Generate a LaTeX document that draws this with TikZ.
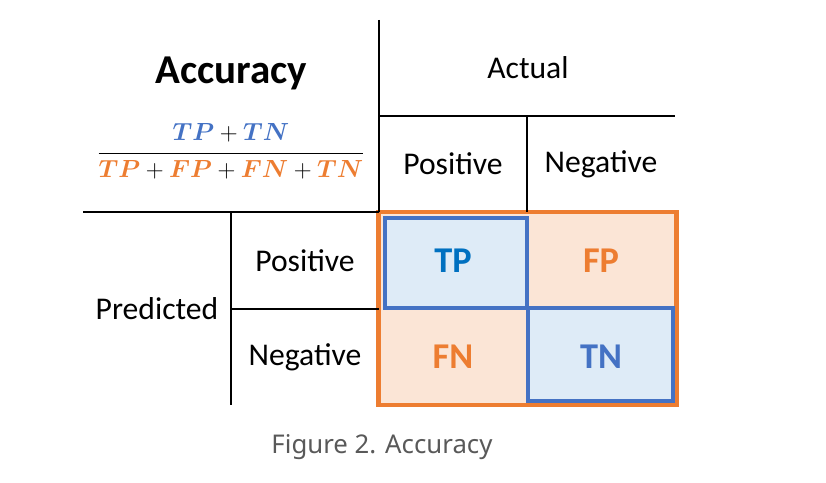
\documentclass[tikz,border=0pt]{standalone}
\usepackage{amsmath}
\usepackage{fontspec}
\setmainfont{Carlito}
\newfontfamily\capfont{Noto Sans}
\usetikzlibrary{positioning}
\definecolor{myorange}{RGB}{237,125,49}
\definecolor{myblue}{RGB}{68,114,196}
\definecolor{mydeepblue}{RGB}{0,112,192}
\definecolor{hdrorange}{RGB}{251,229,214}
\definecolor{hdrblue}{RGB}{222,235,247}
\definecolor{mygray}{RGB}{89,89,89}
\tikzset{
  hdrtext/.style={font=\fontsize{27}{31}\selectfont, text=black},
  celltext/.style={font=\fontsize{31}{35}\selectfont\bfseries},
  gridline/.style={line width=1.2pt, color=black},
  orangebox/.style={draw=myorange, line width=4pt},
  bluebox/.style={draw=myblue, line width=4pt}
}

\begin{document}
\begin{tikzpicture}[x=0.03cm, y=-0.03cm]
  \useasboundingbox (0,0) rectangle (826,483);

  % Confusion matrix cells
  \fill[hdrorange] (378.5,212) rectangle (676.5,405);
  \fill[hdrblue] (385,218) rectangle (527,308);
  \fill[hdrblue] (528,308) rectangle (673,401);
  \draw[orangebox] (378.5,212) rectangle (676.5,405);
  \draw[bluebox] (385,218) rectangle (527,308);
  \draw[bluebox] (528,308) rectangle (673,401);

  % Table rules
  \coordinate (colA) at (379,20);
  \coordinate (colAb) at (379,212);
  \coordinate (rowL) at (83,212);
  \draw[gridline] (colA) -- (colAb);
  \draw[gridline] (rowL) -- (colAb);
  \draw[gridline] (379,116) -- (675,116);
  \draw[gridline] (527,116) -- (527,212);
  \draw[gridline] (231,212) -- (231,405);
  \draw[gridline] (231,309) -- (379,309);

  % Formula
  \node[font=\fontsize{35}{40}\selectfont\bfseries] (title) at (231,73) {Accuracy};
  \node[font=\fontsize{25}{30}\selectfont] (formula) at (231,153)
    {\scalebox{0.85}{$\displaystyle\frac{{\color{myblue}\boldsymbol{TP}}+{\color{myblue}\boldsymbol{TN}}\vphantom{\big|}}
      {\vphantom{\big|}{\color{myorange}\boldsymbol{TP}}+{\color{myorange}\boldsymbol{FP}}+{\color{myorange}\boldsymbol{FN}}+{\color{myorange}\boldsymbol{TN}}}$}};

  % Headers
  \node[hdrtext] (actual) at (528,68) {Actual};
  \node[hdrtext] (actpos) at (453,164) {Positive};
  \node[hdrtext] (actneg) at (601,164) {Negative};
  \node[hdrtext] (predicted) at (157,309) {Predicted};
  \node[hdrtext] (predpos) at (305,261) {Positive};
  \node[hdrtext] (predneg) at (305,357) {Negative};

  % Cell labels
  \node[celltext, text=mydeepblue] (tp) at (453,261) {TP};
  \node[celltext, text=myorange] (fp) at (601,261) {FP};
  \node[celltext, text=myorange] (fn) at (453,357) {FN};
  \node[celltext, text=myblue] (tn) at (601,357) {TN};

  % Caption
  \node[font=\capfont\fontsize{22}{26}\selectfont, text=mygray] (caption) at (382,447) {Figure 2. Accuracy};
\end{tikzpicture}
\end{document}
